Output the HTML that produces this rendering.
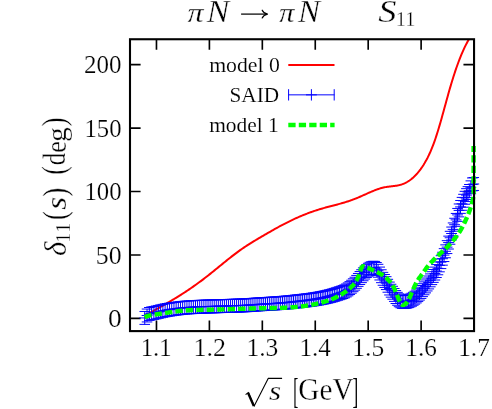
<!DOCTYPE html>
<html><head><meta charset="utf-8"><title>S11</title>
<style>html,body{margin:0;padding:0;background:#fff;overflow:hidden}svg{display:block;font-family:"Liberation Serif",serif}</style></head>
<body><svg width="492" height="409" viewBox="0 0 492 409">
<defs><clipPath id="clip"><rect x="130.0" y="39.25" width="344.05" height="291.85"/></clipPath></defs>
<rect width="492" height="409" fill="#fff"/>
<g style="opacity:0.999">
<path d="M156.47 331.10V320.50M156.47 39.25V49.85M209.40 331.10V320.50M209.40 39.25V49.85M262.33 331.10V320.50M262.33 39.25V49.85M315.26 331.10V320.50M315.26 39.25V49.85M368.19 331.10V320.50M368.19 39.25V49.85M421.12 331.10V320.50M421.12 39.25V49.85M130.00 318.41H140.60M474.05 318.41H463.45M130.00 254.97H140.60M474.05 254.97H463.45M130.00 191.52H140.60M474.05 191.52H463.45M130.00 128.07H140.60M474.05 128.07H463.45M130.00 64.63H140.60M474.05 64.63H463.45" stroke="#000" stroke-width="1.65" fill="none"/>
<g clip-path="url(#clip)">
<path d="M144.50 315.69 L145.50 315.16 L146.50 314.62 L147.50 314.09 L148.50 313.55 L149.50 313.01 L150.50 312.47 L151.50 311.93 L152.50 311.38 L153.50 310.84 L154.50 310.29 L155.50 309.74 L156.50 309.19 L157.50 308.63 L158.50 308.08 L159.50 307.52 L160.50 306.96 L161.50 306.39 L162.50 305.83 L163.50 305.26 L164.50 304.68 L165.50 304.11 L166.50 303.53 L167.50 302.94 L168.50 302.36 L169.50 301.77 L170.50 301.18 L171.50 300.58 L172.50 299.98 L173.50 299.38 L174.50 298.77 L175.50 298.16 L176.50 297.55 L177.50 296.93 L178.50 296.30 L179.50 295.67 L180.50 295.04 L181.50 294.41 L182.50 293.76 L183.50 293.12 L184.50 292.47 L185.50 291.81 L186.50 291.15 L187.50 290.49 L188.50 289.82 L189.50 289.14 L190.50 288.46 L191.50 287.77 L192.50 287.08 L193.50 286.38 L194.50 285.68 L195.50 284.97 L196.50 284.25 L197.50 283.53 L198.50 282.81 L199.50 282.07 L200.50 281.33 L201.50 280.59 L202.50 279.84 L203.50 279.08 L204.50 278.31 L205.50 277.54 L206.50 276.76 L207.50 275.98 L208.50 275.19 L209.50 274.40 L210.50 273.60 L211.50 272.80 L212.50 271.99 L213.50 271.18 L214.50 270.37 L215.50 269.56 L216.50 268.74 L217.50 267.93 L218.50 267.11 L219.50 266.30 L220.50 265.48 L221.50 264.66 L222.50 263.85 L223.50 263.04 L224.50 262.23 L225.50 261.42 L226.50 260.61 L227.50 259.81 L228.50 259.02 L229.50 258.22 L230.50 257.44 L231.50 256.65 L232.50 255.88 L233.50 255.11 L234.50 254.34 L235.50 253.59 L236.50 252.84 L237.50 252.10 L238.50 251.36 L239.50 250.64 L240.50 249.93 L241.50 249.22 L242.50 248.53 L243.50 247.84 L244.50 247.17 L245.50 246.50 L246.50 245.85 L247.50 245.20 L248.50 244.55 L249.50 243.92 L250.50 243.29 L251.50 242.67 L252.50 242.05 L253.50 241.44 L254.50 240.84 L255.50 240.24 L256.50 239.64 L257.50 239.05 L258.50 238.46 L259.50 237.87 L260.50 237.29 L261.50 236.70 L262.50 236.12 L263.50 235.54 L264.50 234.97 L265.50 234.39 L266.50 233.81 L267.50 233.23 L268.50 232.66 L269.50 232.08 L270.50 231.51 L271.50 230.93 L272.50 230.36 L273.50 229.80 L274.50 229.23 L275.50 228.67 L276.50 228.11 L277.50 227.56 L278.50 227.00 L279.50 226.46 L280.50 225.92 L281.50 225.38 L282.50 224.85 L283.50 224.33 L284.50 223.81 L285.50 223.29 L286.50 222.79 L287.50 222.28 L288.50 221.78 L289.50 221.29 L290.50 220.81 L291.50 220.32 L292.50 219.85 L293.50 219.38 L294.50 218.92 L295.50 218.46 L296.50 218.01 L297.50 217.56 L298.50 217.12 L299.50 216.68 L300.50 216.26 L301.50 215.83 L302.50 215.42 L303.50 215.01 L304.50 214.60 L305.50 214.20 L306.50 213.81 L307.50 213.43 L308.50 213.05 L309.50 212.68 L310.50 212.31 L311.50 211.95 L312.50 211.60 L313.50 211.25 L314.50 210.91 L315.50 210.58 L316.50 210.25 L317.50 209.93 L318.50 209.62 L319.50 209.31 L320.50 209.01 L321.50 208.72 L322.50 208.43 L323.50 208.14 L324.50 207.86 L325.50 207.59 L326.50 207.32 L327.50 207.05 L328.50 206.78 L329.50 206.52 L330.50 206.26 L331.50 205.99 L332.50 205.73 L333.50 205.47 L334.50 205.21 L335.50 204.94 L336.50 204.68 L337.50 204.41 L338.50 204.14 L339.50 203.87 L340.50 203.59 L341.50 203.31 L342.50 203.03 L343.50 202.74 L344.50 202.44 L345.50 202.14 L346.50 201.83 L347.50 201.51 L348.50 201.19 L349.50 200.86 L350.50 200.51 L351.50 200.16 L352.50 199.80 L353.50 199.43 L354.50 199.05 L355.50 198.66 L356.50 198.26 L357.50 197.84 L358.50 197.42 L359.50 196.98 L360.50 196.54 L361.50 196.10 L362.50 195.65 L363.50 195.20 L364.50 194.75 L365.50 194.29 L366.50 193.84 L367.50 193.39 L368.50 192.94 L369.50 192.50 L370.50 192.06 L371.50 191.64 L372.50 191.22 L373.50 190.81 L374.50 190.41 L375.50 190.02 L376.50 189.65 L377.50 189.29 L378.50 188.95 L379.50 188.63 L380.50 188.33 L381.50 188.04 L382.50 187.78 L383.50 187.54 L384.50 187.33 L385.50 187.14 L386.50 186.97 L387.50 186.82 L388.50 186.68 L389.50 186.56 L390.50 186.44 L391.50 186.32 L392.50 186.20 L393.50 186.08 L394.50 185.95 L395.50 185.81 L396.50 185.65 L397.50 185.47 L398.50 185.27 L399.50 185.04 L400.50 184.78 L401.50 184.48 L402.50 184.14 L403.50 183.75 L404.50 183.32 L405.50 182.85 L406.50 182.32 L407.50 181.75 L408.50 181.13 L409.50 180.46 L410.50 179.74 L411.50 178.96 L412.50 178.13 L413.50 177.24 L414.50 176.29 L415.50 175.29 L416.50 174.22 L417.50 173.09 L418.50 171.90 L419.50 170.65 L420.50 169.33 L421.50 167.94 L422.50 166.48 L423.50 164.94 L424.50 163.32 L425.50 161.61 L426.50 159.81 L427.50 157.91 L428.50 155.90 L429.50 153.78 L430.50 151.55 L431.50 149.19 L432.50 146.71 L433.50 144.10 L434.50 141.35 L435.50 138.46 L436.50 135.43 L437.50 132.28 L438.50 129.02 L439.50 125.66 L440.50 122.21 L441.50 118.69 L442.50 115.10 L443.50 111.48 L444.50 107.82 L445.50 104.16 L446.50 100.52 L447.50 96.90 L448.50 93.32 L449.50 89.81 L450.50 86.36 L451.50 83.00 L452.50 79.72 L453.50 76.53 L454.50 73.44 L455.50 70.44 L456.50 67.53 L457.50 64.72 L458.50 62.01 L459.50 59.38 L460.50 56.86 L461.50 54.42 L462.50 52.08 L463.50 49.84 L464.50 47.68 L465.50 45.63 L466.50 43.66 L467.50 41.80 L468.50 40.02 L469.50 38.34 L470.50 36.75" fill="none" stroke="#ff0000" stroke-width="2" stroke-linejoin="round"/>
</g>
<path d="M144.74 311.48V324.38M139.44 311.48H150.04M139.44 324.38H150.04M139.34 317.93H150.14M147.04 309.04V321.94M141.74 309.04H152.34M141.74 321.94H152.34M141.64 315.49H152.44M149.33 307.50V320.40M144.03 307.50H154.63M144.03 320.40H154.63M143.93 313.95H154.73M151.61 306.90V319.80M146.31 306.90H156.91M146.31 319.80H156.91M146.21 313.35H157.01M153.88 306.48V319.38M148.58 306.48H159.18M148.58 319.38H159.18M148.48 312.93H159.28M156.14 305.99V318.89M150.84 305.99H161.44M150.84 318.89H161.44M150.74 312.44H161.54M158.40 305.44V318.34M153.10 305.44H163.70M153.10 318.34H163.70M153.00 311.89H163.80M160.64 304.89V317.79M155.34 304.89H165.94M155.34 317.79H165.94M155.24 311.34H166.04M162.88 304.38V317.28M157.58 304.38H168.18M157.58 317.28H168.18M157.48 310.83H168.28M165.11 303.92V316.82M159.81 303.92H170.41M159.81 316.82H170.41M159.71 310.37H170.51M167.33 303.52V316.42M162.03 303.52H172.63M162.03 316.42H172.63M161.93 309.97H172.73M169.54 303.15V316.05M164.24 303.15H174.84M164.24 316.05H174.84M164.14 309.60H174.94M171.74 302.81V315.71M166.44 302.81H177.04M166.44 315.71H177.04M166.34 309.26H177.14M173.94 302.50V315.40M168.64 302.50H179.24M168.64 315.40H179.24M168.54 308.95H179.34M176.13 302.20V315.10M170.83 302.20H181.43M170.83 315.10H181.43M170.73 308.65H181.53M178.31 301.93V314.83M173.01 301.93H183.61M173.01 314.83H183.61M172.91 308.38H183.71M180.48 301.66V314.56M175.18 301.66H185.78M175.18 314.56H185.78M175.08 308.11H185.88M182.64 301.42V314.32M177.34 301.42H187.94M177.34 314.32H187.94M177.24 307.87H188.04M184.80 301.22V314.12M179.50 301.22H190.10M179.50 314.12H190.10M179.40 307.67H190.20M186.95 301.05V313.95M181.65 301.05H192.25M181.65 313.95H192.25M181.55 307.50H192.35M189.09 300.90V313.80M183.79 300.90H194.39M183.79 313.80H194.39M183.69 307.35H194.49M191.22 300.77V313.67M185.92 300.77H196.52M185.92 313.67H196.52M185.82 307.22H196.62M193.35 300.65V313.55M188.05 300.65H198.65M188.05 313.55H198.65M187.95 307.10H198.75M195.47 300.55V313.45M190.17 300.55H200.77M190.17 313.45H200.77M190.07 307.00H200.87M197.58 300.45V313.35M192.28 300.45H202.88M192.28 313.35H202.88M192.18 306.90H202.98M199.69 300.35V313.25M194.39 300.35H204.99M194.39 313.25H204.99M194.29 306.80H205.09M201.78 300.27V313.17M196.48 300.27H207.08M196.48 313.17H207.08M196.38 306.72H207.18M203.87 300.19V313.09M198.57 300.19H209.17M198.57 313.09H209.17M198.47 306.64H209.27M205.96 300.12V313.02M200.66 300.12H211.26M200.66 313.02H211.26M200.56 306.57H211.36M208.04 300.05V312.95M202.74 300.05H213.34M202.74 312.95H213.34M202.64 306.50H213.44M210.11 299.98V312.88M204.81 299.98H215.41M204.81 312.88H215.41M204.71 306.43H215.51M212.17 299.92V312.82M206.87 299.92H217.47M206.87 312.82H217.47M206.77 306.37H217.57M214.23 299.86V312.76M208.93 299.86H219.53M208.93 312.76H219.53M208.83 306.31H219.63M216.28 299.81V312.71M210.98 299.81H221.58M210.98 312.71H221.58M210.88 306.26H221.68M218.32 299.75V312.65M213.02 299.75H223.62M213.02 312.65H223.62M212.92 306.20H223.72M220.36 299.69V312.59M215.06 299.69H225.66M215.06 312.59H225.66M214.96 306.14H225.76M222.39 299.63V312.53M217.09 299.63H227.69M217.09 312.53H227.69M216.99 306.08H227.79M224.41 299.57V312.47M219.11 299.57H229.71M219.11 312.47H229.71M219.01 306.02H229.81M226.43 299.50V312.40M221.13 299.50H231.73M221.13 312.40H231.73M221.03 305.95H231.83M228.44 299.44V312.34M223.14 299.44H233.74M223.14 312.34H233.74M223.04 305.89H233.84M230.45 299.38V312.28M225.15 299.38H235.75M225.15 312.28H235.75M225.05 305.83H235.85M232.45 299.32V312.22M227.15 299.32H237.75M227.15 312.22H237.75M227.05 305.77H237.85M234.44 299.25V312.15M229.14 299.25H239.74M229.14 312.15H239.74M229.04 305.70H239.84M236.43 299.19V312.09M231.13 299.19H241.73M231.13 312.09H241.73M231.03 305.64H241.83M238.41 299.12V312.02M233.11 299.12H243.71M233.11 312.02H243.71M233.01 305.57H243.81M240.39 299.05V311.95M235.09 299.05H245.69M235.09 311.95H245.69M234.99 305.50H245.79M242.36 298.97V311.87M237.06 298.97H247.66M237.06 311.87H247.66M236.96 305.42H247.76M244.32 298.88V311.78M239.02 298.88H249.62M239.02 311.78H249.62M238.92 305.33H249.72M246.28 298.79V311.69M240.98 298.79H251.58M240.98 311.69H251.58M240.88 305.24H251.68M248.24 298.67V311.57M242.94 298.67H253.54M242.94 311.57H253.54M242.84 305.12H253.64M250.18 298.54V311.44M244.88 298.54H255.48M244.88 311.44H255.48M244.78 304.99H255.58M252.12 298.41V311.31M246.82 298.41H257.42M246.82 311.31H257.42M246.72 304.86H257.52M254.06 298.26V311.16M248.76 298.26H259.36M248.76 311.16H259.36M248.66 304.71H259.46M255.99 298.12V311.02M250.69 298.12H261.29M250.69 311.02H261.29M250.59 304.57H261.39M257.92 297.99V310.89M252.62 297.99H263.22M252.62 310.89H263.22M252.52 304.44H263.32M259.84 297.86V310.76M254.54 297.86H265.14M254.54 310.76H265.14M254.44 304.31H265.24M261.75 297.74V310.64M256.45 297.74H267.05M256.45 310.64H267.05M256.35 304.19H267.15M263.66 297.64V310.54M258.36 297.64H268.96M258.36 310.54H268.96M258.26 304.09H269.06M265.56 297.53V310.43M260.26 297.53H270.86M260.26 310.43H270.86M260.16 303.98H270.96M267.46 297.42V310.32M262.16 297.42H272.76M262.16 310.32H272.76M262.06 303.87H272.86M269.36 297.31V310.21M264.06 297.31H274.66M264.06 310.21H274.66M263.96 303.76H274.76M271.24 297.20V310.10M265.94 297.20H276.54M265.94 310.10H276.54M265.84 303.65H276.64M273.13 297.08V309.98M267.83 297.08H278.43M267.83 309.98H278.43M267.73 303.53H278.53M275.00 296.95V309.85M269.70 296.95H280.30M269.70 309.85H280.30M269.60 303.40H280.40M276.88 296.82V309.72M271.58 296.82H282.18M271.58 309.72H282.18M271.48 303.27H282.28M278.75 296.68V309.58M273.45 296.68H284.05M273.45 309.58H284.05M273.35 303.13H284.15M280.61 296.54V309.44M275.31 296.54H285.91M275.31 309.44H285.91M275.21 302.99H286.01M282.47 296.40V309.30M277.17 296.40H287.77M277.17 309.30H287.77M277.07 302.85H287.87M284.32 296.24V309.14M279.02 296.24H289.62M279.02 309.14H289.62M278.92 302.69H289.72M286.17 296.08V308.98M280.87 296.08H291.47M280.87 308.98H291.47M280.77 302.53H291.57M288.01 295.91V308.81M282.71 295.91H293.31M282.71 308.81H293.31M282.61 302.36H293.41M289.85 295.73V308.63M284.55 295.73H295.15M284.55 308.63H295.15M284.45 302.18H295.25M291.69 295.54V308.44M286.39 295.54H296.99M286.39 308.44H296.99M286.29 301.99H297.09M293.52 295.34V308.24M288.22 295.34H298.82M288.22 308.24H298.82M288.12 301.79H298.92M295.34 295.14V308.04M290.04 295.14H300.64M290.04 308.04H300.64M289.94 301.59H300.74M297.16 294.94V307.84M291.86 294.94H302.46M291.86 307.84H302.46M291.76 301.39H302.56M298.98 294.74V307.64M293.68 294.74H304.28M293.68 307.64H304.28M293.58 301.19H304.38M300.79 294.55V307.45M295.49 294.55H306.09M295.49 307.45H306.09M295.39 301.00H306.19M302.60 294.35V307.25M297.30 294.35H307.90M297.30 307.25H307.90M297.20 300.80H308.00M304.40 294.14V307.04M299.10 294.14H309.70M299.10 307.04H309.70M299.00 300.59H309.80M306.20 293.93V306.83M300.90 293.93H311.50M300.90 306.83H311.50M300.80 300.38H311.60M307.99 293.71V306.61M302.69 293.71H313.29M302.69 306.61H313.29M302.59 300.16H313.39M309.78 293.48V306.38M304.48 293.48H315.08M304.48 306.38H315.08M304.38 299.93H315.18M311.56 293.23V306.13M306.26 293.23H316.86M306.26 306.13H316.86M306.16 299.68H316.96M313.34 292.97V305.87M308.04 292.97H318.64M308.04 305.87H318.64M307.94 299.42H318.74M315.12 292.69V305.59M309.82 292.69H320.42M309.82 305.59H320.42M309.72 299.14H320.52M316.89 292.40V305.30M311.59 292.40H322.19M311.59 305.30H322.19M311.49 298.85H322.29M318.66 292.09V304.99M313.36 292.09H323.96M313.36 304.99H323.96M313.26 298.54H324.06M320.42 291.77V304.67M315.12 291.77H325.72M315.12 304.67H325.72M315.02 298.22H325.82M322.18 291.43V304.33M316.88 291.43H327.48M316.88 304.33H327.48M316.78 297.88H327.58M323.94 291.07V303.97M318.64 291.07H329.24M318.64 303.97H329.24M318.54 297.52H329.34M325.69 290.68V303.58M320.39 290.68H330.99M320.39 303.58H330.99M320.29 297.13H331.09M327.44 290.28V303.18M322.14 290.28H332.74M322.14 303.18H332.74M322.04 296.73H332.84M329.18 289.86V302.76M323.88 289.86H334.48M323.88 302.76H334.48M323.78 296.31H334.58M330.92 289.41V302.31M325.62 289.41H336.22M325.62 302.31H336.22M325.52 295.86H336.32M332.65 288.92V301.82M327.35 288.92H337.95M327.35 301.82H337.95M327.25 295.37H338.05M334.38 288.40V301.30M329.08 288.40H339.68M329.08 301.30H339.68M328.98 294.85H339.78M336.11 287.86V300.76M330.81 287.86H341.41M330.81 300.76H341.41M330.71 294.31H341.51M337.83 287.30V300.20M332.53 287.30H343.13M332.53 300.20H343.13M332.43 293.75H343.23M339.55 286.76V299.66M334.25 286.76H344.85M334.25 299.66H344.85M334.15 293.21H344.95M341.27 286.21V299.11M335.97 286.21H346.57M335.97 299.11H346.57M335.87 292.66H346.67M342.98 285.61V298.51M337.68 285.61H348.28M337.68 298.51H348.28M337.58 292.06H348.38M344.69 284.90V297.80M339.39 284.90H349.99M339.39 297.80H349.99M339.29 291.35H350.09M346.39 284.01V296.91M341.09 284.01H351.69M341.09 296.91H351.69M340.99 290.46H351.79M348.09 282.91V295.81M342.79 282.91H353.39M342.79 295.81H353.39M342.69 289.36H353.49M349.79 281.65V294.55M344.49 281.65H355.09M344.49 294.55H355.09M344.39 288.10H355.19M351.48 280.26V293.16M346.18 280.26H356.78M346.18 293.16H356.78M346.08 286.71H356.88M353.17 278.79V291.69M347.87 278.79H358.47M347.87 291.69H358.47M347.77 285.24H358.57M354.86 277.23V290.13M349.56 277.23H360.16M349.56 290.13H360.16M349.46 283.68H360.26M356.54 275.41V288.31M351.24 275.41H361.84M351.24 288.31H361.84M351.14 281.86H361.94M358.22 273.46V286.36M352.92 273.46H363.52M352.92 286.36H363.52M352.82 279.91H363.62M359.89 271.57V284.47M354.59 271.57H365.19M354.59 284.47H365.19M354.49 278.02H365.29M361.56 269.73V282.63M356.26 269.73H366.86M356.26 282.63H366.86M356.16 276.18H366.96M363.23 267.87V280.77M357.93 267.87H368.53M357.93 280.77H368.53M357.83 274.32H368.63M364.89 266.13V279.03M359.59 266.13H370.19M359.59 279.03H370.19M359.49 272.58H370.29M366.55 264.64V277.54M361.25 264.64H371.85M361.25 277.54H371.85M361.15 271.09H371.95M368.21 263.29V276.19M362.91 263.29H373.51M362.91 276.19H373.51M362.81 269.74H373.61M369.87 262.30V275.20M364.57 262.30H375.17M364.57 275.20H375.17M364.47 268.75H375.27M371.52 261.71V274.61M366.22 261.71H376.82M366.22 274.61H376.82M366.12 268.16H376.92M373.16 261.31V274.21M367.86 261.31H378.46M367.86 274.21H378.46M367.76 267.76H378.56M374.81 261.42V274.32M369.51 261.42H380.11M369.51 274.32H380.11M369.41 267.87H380.21M376.45 262.52V275.42M371.15 262.52H381.75M371.15 275.42H381.75M371.05 268.97H381.85M378.08 264.30V277.20M372.78 264.30H383.38M372.78 277.20H383.38M372.68 270.75H383.48M379.72 267.08V279.98M374.42 267.08H385.02M374.42 279.98H385.02M374.32 273.53H385.12M381.35 269.78V282.68M376.05 269.78H386.65M376.05 282.68H386.65M375.95 276.23H386.75M382.97 272.35V285.25M377.67 272.35H388.27M377.67 285.25H388.27M377.57 278.80H388.37M384.60 274.53V287.43M379.30 274.53H389.90M379.30 287.43H389.90M379.20 280.98H390.00M386.22 276.69V289.59M380.92 276.69H391.52M380.92 289.59H391.52M380.82 283.14H391.62M387.83 279.31V292.21M382.53 279.31H393.13M382.53 292.21H393.13M382.43 285.76H393.23M389.45 282.07V294.97M384.15 282.07H394.75M384.15 294.97H394.75M384.05 288.52H394.85M391.06 284.27V297.17M385.76 284.27H396.36M385.76 297.17H396.36M385.66 290.72H396.46M392.67 286.31V299.21M387.37 286.31H397.97M387.37 299.21H397.97M387.27 292.76H398.07M394.27 288.48V301.38M388.97 288.48H399.57M388.97 301.38H399.57M388.87 294.93H399.67M395.87 290.60V303.50M390.57 290.60H401.17M390.57 303.50H401.17M390.47 297.05H401.27M397.47 292.35V305.25M392.17 292.35H402.77M392.17 305.25H402.77M392.07 298.80H402.87M399.06 293.84V306.74M393.76 293.84H404.36M393.76 306.74H404.36M393.66 300.29H404.46M400.66 294.86V307.76M395.36 294.86H405.96M395.36 307.76H405.96M395.26 301.31H406.06M402.25 295.45V308.35M396.95 295.45H407.55M396.95 308.35H407.55M396.85 301.90H407.65M403.83 295.64V308.54M398.53 295.64H409.13M398.53 308.54H409.13M398.43 302.09H409.23M405.41 295.47V308.37M400.11 295.47H410.71M400.11 308.37H410.71M400.01 301.92H410.81M406.99 295.17V308.07M401.69 295.17H412.29M401.69 308.07H412.29M401.59 301.62H412.39M408.57 294.72V307.62M403.27 294.72H413.87M403.27 307.62H413.87M403.17 301.17H413.97M410.14 294.05V306.95M404.84 294.05H415.44M404.84 306.95H415.44M404.74 300.50H415.54M411.72 293.27V306.17M406.42 293.27H417.02M406.42 306.17H417.02M406.32 299.72H417.12M413.28 292.33V305.23M407.98 292.33H418.58M407.98 305.23H418.58M407.88 298.78H418.68M414.85 291.24V304.14M409.55 291.24H420.15M409.55 304.14H420.15M409.45 297.69H420.25M416.41 290.01V302.91M411.11 290.01H421.71M411.11 302.91H421.71M411.01 296.46H421.81M417.97 288.69V301.59M412.67 288.69H423.27M412.67 301.59H423.27M412.57 295.14H423.37M419.53 287.20V300.10M414.23 287.20H424.83M414.23 300.10H424.83M414.13 293.65H424.93M421.08 285.52V298.42M415.78 285.52H426.38M415.78 298.42H426.38M415.68 291.97H426.48M422.63 283.72V296.62M417.33 283.72H427.93M417.33 296.62H427.93M417.23 290.17H428.03M424.18 281.86V294.76M418.88 281.86H429.48M418.88 294.76H429.48M418.78 288.31H429.58M425.72 279.98V292.88M420.42 279.98H431.02M420.42 292.88H431.02M420.32 286.43H431.12M427.27 278.04V290.94M421.97 278.04H432.57M421.97 290.94H432.57M421.87 284.49H432.67M428.80 276.02V288.92M423.50 276.02H434.10M423.50 288.92H434.10M423.40 282.47H434.20M430.34 273.91V286.81M425.04 273.91H435.64M425.04 286.81H435.64M424.94 280.36H435.74M431.88 271.72V284.62M426.58 271.72H437.18M426.58 284.62H437.18M426.48 278.17H437.28M433.41 269.46V282.36M428.11 269.46H438.71M428.11 282.36H438.71M428.01 275.91H438.81M434.93 267.10V280.00M429.63 267.10H440.23M429.63 280.00H440.23M429.53 273.55H440.33M436.46 264.59V277.49M431.16 264.59H441.76M431.16 277.49H441.76M431.06 271.04H441.86M437.98 261.88V274.78M432.68 261.88H443.28M432.68 274.78H443.28M432.58 268.33H443.38M439.50 258.92V271.82M434.20 258.92H444.80M434.20 271.82H444.80M434.10 265.37H444.90M441.02 255.70V268.60M435.72 255.70H446.32M435.72 268.60H446.32M435.62 262.15H446.42M442.54 252.27V265.17M437.24 252.27H447.84M437.24 265.17H447.84M437.14 258.72H447.94M444.05 248.65V261.55M438.75 248.65H449.35M438.75 261.55H449.35M438.65 255.10H449.45M445.56 244.86V257.76M440.26 244.86H450.86M440.26 257.76H450.86M440.16 251.31H450.96M447.07 240.67V253.57M441.77 240.67H452.37M441.77 253.57H452.37M441.67 247.12H452.47M448.57 236.13V249.03M443.27 236.13H453.87M443.27 249.03H453.87M443.17 242.58H453.97M450.07 231.32V244.22M444.77 231.32H455.37M444.77 244.22H455.37M444.67 237.77H455.47M451.57 227.05V239.95M446.27 227.05H456.87M446.27 239.95H456.87M446.17 233.50H456.97M453.07 222.94V235.84M447.77 222.94H458.37M447.77 235.84H458.37M447.67 229.39H458.47M454.56 218.28V231.18M449.26 218.28H459.86M449.26 231.18H459.86M449.16 224.73H459.96M456.05 213.44V226.34M450.75 213.44H461.35M450.75 226.34H461.35M450.65 219.89H461.45M457.54 208.45V221.35M452.24 208.45H462.84M452.24 221.35H462.84M452.14 214.90H462.94M459.03 203.97V216.87M453.73 203.97H464.33M453.73 216.87H464.33M453.63 210.42H464.43M460.51 200.47V213.37M455.21 200.47H465.81M455.21 213.37H465.81M455.11 206.92H465.91M462.00 197.38V210.28M456.70 197.38H467.30M456.70 210.28H467.30M456.60 203.83H467.40M463.48 194.31V207.21M458.18 194.31H468.78M458.18 207.21H468.78M458.08 200.76H468.88M464.95 191.33V204.23M459.65 191.33H470.25M459.65 204.23H470.25M459.55 197.78H470.35M466.43 188.67V201.57M461.13 188.67H471.73M461.13 201.57H471.73M461.03 195.12H471.83M467.90 186.65V199.55M462.60 186.65H473.20M462.60 199.55H473.20M462.50 193.10H473.30M469.37 184.51V197.41M464.07 184.51H474.67M464.07 197.41H474.67M463.97 190.96H474.77M470.84 180.86V193.76M465.54 180.86H476.14M465.54 193.76H476.14M465.44 187.31H476.24M472.30 177.95V190.85M467.00 177.95H477.60M467.00 190.85H477.60M466.90 184.40H477.70M473.76 177.55V190.45M468.46 177.55H479.06M468.46 190.45H479.06M468.36 184.00H479.16" fill="none" stroke="#0000ff" stroke-width="1"/>
<path d="M144.60 317.20 L145.10 316.98 L145.60 316.77 L146.10 316.57 L146.60 316.37 L147.10 316.18 L147.60 316.00 L148.10 315.83 L148.60 315.67 L149.10 315.52 L149.60 315.39 L150.10 315.28 L150.60 315.17 L151.10 315.08 L151.60 314.99 L152.10 314.90 L152.60 314.82 L153.10 314.75 L153.60 314.68 L154.10 314.61 L154.60 314.54 L155.10 314.47 L155.60 314.40 L156.10 314.33 L156.60 314.26 L157.10 314.18 L157.60 314.11 L158.10 314.03 L158.60 313.96 L159.10 313.88 L159.60 313.81 L160.10 313.73 L160.60 313.66 L161.10 313.58 L161.60 313.51 L162.10 313.43 L162.60 313.36 L163.10 313.28 L163.60 313.21 L164.10 313.14 L164.60 313.06 L165.10 312.99 L165.60 312.92 L166.10 312.85 L166.60 312.77 L167.10 312.70 L167.60 312.63 L168.10 312.56 L168.60 312.48 L169.10 312.41 L169.60 312.33 L170.10 312.26 L170.60 312.18 L171.10 312.11 L171.60 312.03 L172.10 311.96 L172.60 311.88 L173.10 311.81 L173.60 311.74 L174.10 311.66 L174.60 311.59 L175.10 311.52 L175.60 311.46 L176.10 311.39 L176.60 311.32 L177.10 311.26 L177.60 311.20 L178.10 311.14 L178.60 311.09 L179.10 311.03 L179.60 310.98 L180.10 310.93 L180.60 310.87 L181.10 310.82 L181.60 310.77 L182.10 310.71 L182.60 310.66 L183.10 310.61 L183.60 310.57 L184.10 310.52 L184.60 310.48 L185.10 310.43 L185.60 310.39 L186.10 310.35 L186.60 310.32 L187.10 310.28 L187.60 310.25 L188.10 310.22 L188.60 310.20 L189.10 310.18 L189.60 310.16 L190.10 310.13 L190.60 310.11 L191.10 310.10 L191.60 310.08 L192.10 310.06 L192.60 310.04 L193.10 310.03 L193.60 310.01 L194.10 310.00 L194.60 309.99 L195.10 309.97 L195.60 309.96 L196.10 309.95 L196.60 309.93 L197.10 309.92 L197.60 309.91 L198.10 309.90 L198.60 309.89 L199.10 309.88 L199.60 309.86 L200.10 309.85 L200.60 309.84 L201.10 309.84 L201.60 309.83 L202.10 309.82 L202.60 309.81 L203.10 309.80 L203.60 309.79 L204.10 309.78 L204.60 309.78 L205.10 309.77 L205.60 309.76 L206.10 309.75 L206.60 309.75 L207.10 309.74 L207.60 309.73 L208.10 309.72 L208.60 309.72 L209.10 309.71 L209.60 309.70 L210.10 309.69 L210.60 309.68 L211.10 309.68 L211.60 309.67 L212.10 309.66 L212.60 309.65 L213.10 309.64 L213.60 309.63 L214.10 309.62 L214.60 309.61 L215.10 309.60 L215.60 309.59 L216.10 309.57 L216.60 309.56 L217.10 309.55 L217.60 309.54 L218.10 309.52 L218.60 309.51 L219.10 309.50 L219.60 309.48 L220.10 309.47 L220.60 309.45 L221.10 309.44 L221.60 309.42 L222.10 309.41 L222.60 309.39 L223.10 309.38 L223.60 309.36 L224.10 309.35 L224.60 309.33 L225.10 309.31 L225.60 309.30 L226.10 309.28 L226.60 309.27 L227.10 309.25 L227.60 309.23 L228.10 309.22 L228.60 309.20 L229.10 309.18 L229.60 309.17 L230.10 309.15 L230.60 309.14 L231.10 309.12 L231.60 309.10 L232.10 309.09 L232.60 309.07 L233.10 309.06 L233.60 309.04 L234.10 309.03 L234.60 309.01 L235.10 309.00 L235.60 308.98 L236.10 308.97 L236.60 308.95 L237.10 308.94 L237.60 308.92 L238.10 308.91 L238.60 308.90 L239.10 308.88 L239.60 308.87 L240.10 308.85 L240.60 308.84 L241.10 308.82 L241.60 308.81 L242.10 308.79 L242.60 308.78 L243.10 308.77 L243.60 308.75 L244.10 308.74 L244.60 308.72 L245.10 308.71 L245.60 308.69 L246.10 308.68 L246.60 308.67 L247.10 308.65 L247.60 308.64 L248.10 308.62 L248.60 308.61 L249.10 308.59 L249.60 308.58 L250.10 308.57 L250.60 308.55 L251.10 308.54 L251.60 308.52 L252.10 308.51 L252.60 308.50 L253.10 308.48 L253.60 308.47 L254.10 308.46 L254.60 308.44 L255.10 308.43 L255.60 308.42 L256.10 308.40 L256.60 308.39 L257.10 308.38 L257.60 308.36 L258.10 308.35 L258.60 308.34 L259.10 308.32 L259.60 308.31 L260.10 308.30 L260.60 308.28 L261.10 308.27 L261.60 308.26 L262.10 308.25 L262.60 308.24 L263.10 308.23 L263.60 308.22 L264.10 308.21 L264.60 308.19 L265.10 308.18 L265.60 308.17 L266.10 308.16 L266.60 308.15 L267.10 308.14 L267.60 308.14 L268.10 308.13 L268.60 308.12 L269.10 308.11 L269.60 308.10 L270.10 308.09 L270.60 308.08 L271.10 308.07 L271.60 308.06 L272.10 308.05 L272.60 308.04 L273.10 308.03 L273.60 308.02 L274.10 308.01 L274.60 308.00 L275.10 307.99 L275.60 307.98 L276.10 307.97 L276.60 307.96 L277.10 307.95 L277.60 307.93 L278.10 307.92 L278.60 307.91 L279.10 307.90 L279.60 307.88 L280.10 307.87 L280.60 307.86 L281.10 307.84 L281.60 307.83 L282.10 307.81 L282.60 307.80 L283.10 307.78 L283.60 307.76 L284.10 307.75 L284.60 307.73 L285.10 307.71 L285.60 307.69 L286.10 307.67 L286.60 307.65 L287.10 307.63 L287.60 307.60 L288.10 307.57 L288.60 307.55 L289.10 307.52 L289.60 307.48 L290.10 307.45 L290.60 307.42 L291.10 307.38 L291.60 307.35 L292.10 307.31 L292.60 307.27 L293.10 307.23 L293.60 307.19 L294.10 307.15 L294.60 307.11 L295.10 307.06 L295.60 307.02 L296.10 306.97 L296.60 306.93 L297.10 306.88 L297.60 306.84 L298.10 306.79 L298.60 306.74 L299.10 306.69 L299.60 306.64 L300.10 306.58 L300.60 306.53 L301.10 306.47 L301.60 306.40 L302.10 306.34 L302.60 306.28 L303.10 306.21 L303.60 306.14 L304.10 306.07 L304.60 306.00 L305.10 305.93 L305.60 305.85 L306.10 305.78 L306.60 305.70 L307.10 305.62 L307.60 305.54 L308.10 305.46 L308.60 305.38 L309.10 305.30 L309.60 305.22 L310.10 305.13 L310.60 305.04 L311.10 304.95 L311.60 304.86 L312.10 304.76 L312.60 304.66 L313.10 304.56 L313.60 304.46 L314.10 304.36 L314.60 304.25 L315.10 304.15 L315.60 304.04 L316.10 303.92 L316.60 303.81 L317.10 303.70 L317.60 303.58 L318.10 303.46 L318.60 303.34 L319.10 303.22 L319.60 303.10 L320.10 302.98 L320.60 302.85 L321.10 302.72 L321.60 302.59 L322.10 302.45 L322.60 302.31 L323.10 302.17 L323.60 302.03 L324.10 301.88 L324.60 301.74 L325.10 301.58 L325.60 301.43 L326.10 301.27 L326.60 301.11 L327.10 300.95 L327.60 300.78 L328.10 300.61 L328.60 300.44 L329.10 300.26 L329.60 300.08 L330.10 299.90 L330.60 299.71 L331.10 299.52 L331.60 299.32 L332.10 299.12 L332.60 298.91 L333.10 298.70 L333.60 298.49 L334.10 298.26 L334.60 298.04 L335.10 297.81 L335.60 297.57 L336.10 297.33 L336.60 297.08 L337.10 296.83 L337.60 296.58 L338.10 296.32 L338.60 296.05 L339.10 295.78 L339.60 295.51 L340.10 295.23 L340.60 294.95 L341.10 294.65 L341.60 294.35 L342.10 294.04 L342.60 293.72 L343.10 293.39 L343.60 293.05 L344.10 292.71 L344.60 292.36 L345.10 292.00 L345.60 291.63 L346.10 291.25 L346.60 290.87 L347.10 290.48 L347.60 290.08 L348.10 289.69 L348.60 289.29 L349.10 288.89 L349.60 288.48 L350.10 288.06 L350.60 287.63 L351.10 287.18 L351.60 286.72 L352.10 286.23 L352.60 285.72 L353.10 285.19 L353.60 284.62 L354.10 284.03 L354.60 283.40 L355.10 282.72 L355.60 281.96 L356.10 281.11 L356.60 280.18 L357.10 279.18 L357.60 278.12 L358.10 277.01 L358.60 275.86 L359.10 274.68 L359.60 273.39 L360.10 271.79 L360.60 270.11 L361.10 268.68 L361.60 267.76 L362.10 267.09 L362.60 266.57 L363.10 266.31 L363.60 266.33 L364.10 266.42 L364.60 266.58 L365.10 266.77 L365.60 266.99 L366.10 267.22 L366.60 267.44 L367.10 267.64 L367.60 267.83 L368.10 268.02 L368.60 268.22 L369.10 268.43 L369.60 268.63 L370.10 268.84 L370.60 269.05 L371.10 269.27 L371.60 269.49 L372.10 269.71 L372.60 269.93 L373.10 270.16 L373.60 270.39 L374.10 270.62 L374.60 270.85 L375.10 271.09 L375.60 271.33 L376.10 271.57 L376.60 271.81 L377.10 272.06 L377.60 272.31 L378.10 272.57 L378.60 272.83 L379.10 273.10 L379.60 273.37 L380.10 273.64 L380.60 273.92 L381.10 274.20 L381.60 274.48 L382.10 274.77 L382.60 275.07 L383.10 275.37 L383.60 275.70 L384.10 276.04 L384.60 276.40 L385.10 276.79 L385.60 277.22 L386.10 277.67 L386.60 278.14 L387.10 278.64 L387.60 279.14 L388.10 279.66 L388.60 280.18 L389.10 280.70 L389.60 281.21 L390.10 281.72 L390.60 282.25 L391.10 282.82 L391.60 283.44 L392.10 284.15 L392.60 284.99 L393.10 285.96 L393.60 287.02 L394.10 288.12 L394.60 289.22 L395.10 290.39 L395.60 291.62 L396.10 292.85 L396.60 294.03 L397.10 295.23 L397.60 296.46 L398.10 297.69 L398.60 298.89 L399.10 300.02 L399.60 301.05 L400.10 301.94 L400.60 302.69 L401.10 303.43 L401.60 304.12 L402.10 304.67 L402.60 304.97 L403.10 304.98 L403.60 304.85 L404.10 304.64 L404.60 304.36 L405.10 304.05 L405.60 303.72 L406.10 303.29 L406.60 302.75 L407.10 302.12 L407.60 301.43 L408.10 300.68 L408.60 299.81 L409.10 298.80 L409.60 297.69 L410.10 296.50 L410.60 295.29 L411.10 294.08 L411.60 292.90 L412.10 291.78 L412.60 290.68 L413.10 289.55 L413.60 288.42 L414.10 287.30 L414.60 286.19 L415.10 285.12 L415.60 284.10 L416.10 283.14 L416.60 282.25 L417.10 281.41 L417.60 280.60 L418.10 279.82 L418.60 279.06 L419.10 278.33 L419.60 277.62 L420.10 276.92 L420.60 276.24 L421.10 275.55 L421.60 274.87 L422.10 274.19 L422.60 273.50 L423.10 272.80 L423.60 272.09 L424.10 271.37 L424.60 270.66 L425.10 269.95 L425.60 269.24 L426.10 268.54 L426.60 267.86 L427.10 267.19 L427.60 266.54 L428.10 265.92 L428.60 265.32 L429.10 264.73 L429.60 264.16 L430.10 263.59 L430.60 263.04 L431.10 262.49 L431.60 261.96 L432.10 261.43 L432.60 260.91 L433.10 260.39 L433.60 259.88 L434.10 259.38 L434.60 258.88 L435.10 258.38 L435.60 257.89 L436.10 257.39 L436.60 256.90 L437.10 256.42 L437.60 255.94 L438.10 255.48 L438.60 255.02 L439.10 254.57 L439.60 254.13 L440.10 253.68 L440.60 253.24 L441.10 252.80 L441.60 252.36 L442.10 251.91 L442.60 251.46 L443.10 251.01 L443.60 250.54 L444.10 250.07 L444.60 249.59 L445.10 249.10 L445.60 248.61 L446.10 248.11 L446.60 247.61 L447.10 247.11 L447.60 246.60 L448.10 246.09 L448.60 245.57 L449.10 245.04 L449.60 244.51 L450.10 243.97 L450.60 243.42 L451.10 242.86 L451.60 242.29 L452.10 241.72 L452.60 241.13 L453.10 240.53 L453.60 239.93 L454.10 239.32 L454.60 238.70 L455.10 238.07 L455.60 237.44 L456.10 236.79 L456.60 236.13 L457.10 235.45 L457.60 234.76 L458.10 234.05 L458.60 233.33 L459.10 232.58 L459.60 231.81 L460.10 231.02 L460.60 230.20 L461.10 229.35 L461.60 228.47 L462.10 227.55 L462.60 226.61 L463.10 225.63 L463.60 224.62 L464.10 223.59 L464.60 222.54 L465.10 221.46 L465.60 220.35 L466.10 219.23 L466.60 218.09 L467.10 216.93 L467.60 215.76 L468.10 214.56 L468.60 213.34 L469.10 212.06 L469.60 210.74 L470.10 209.35 L470.60 207.88 L471.10 206.32 L471.60 204.63 L472.10 202.73 L472.60 200.69 L473.00 199.00 L473.60 193.00 L473.60 145.90" fill="none" stroke="#00ff00" stroke-width="4.4" stroke-dasharray="7.3 3.17" stroke-dashoffset="0" stroke-linejoin="round"/>
<path d="M288.3 64.9H334.5" stroke="#ff0000" stroke-width="2" fill="none"/>
<path d="M288.3 94.85H334.5M288.6 89.2V100.5M334.2 89.2V100.5M311.4 89.15V100.55M306 94.85H316.8" stroke="#0000ff" stroke-width="1" fill="none"/>
<path d="M288.3 125H334.6" stroke="#00ff00" stroke-width="4.4" stroke-dasharray="7.3 3.17" fill="none"/>
<text transform="matrix(0.2176 0 0 0.2056 209.165 71.889)" font-family="Liberation Serif" font-size="100" stroke="#fff" stroke-width="0.57" paint-order="fill stroke">model 0</text>
<text transform="matrix(0.2126 0 0 0.2191 229.512 101.862)" font-family="Liberation Serif" font-size="100" stroke="#fff" stroke-width="0.56" paint-order="fill stroke">SAID</text>
<text transform="matrix(0.2145 0 0 0.2086 209.171 132.091)" font-family="Liberation Serif" font-size="100" stroke="#fff" stroke-width="0.57" paint-order="fill stroke">model 1</text>
<rect x="130.0" y="39.25" width="344.05" height="291.85" fill="none" stroke="#000" stroke-width="2.1"/>
<text transform="matrix(0.2738 0 0 0.2554 108.005 327.111)" font-family="Liberation Serif" font-size="100" stroke="#fff" stroke-width="0.76" paint-order="fill stroke">0</text>
<text transform="matrix(0.2578 0 0 0.2554 95.853 263.665)" font-family="Liberation Serif" font-size="100" stroke="#fff" stroke-width="0.78" paint-order="fill stroke">50</text>
<text transform="matrix(0.2474 0 0 0.2515 84.473 200.220)" font-family="Liberation Serif" font-size="100" stroke="#fff" stroke-width="0.80" paint-order="fill stroke">100</text>
<text transform="matrix(0.2474 0 0 0.2515 84.473 136.774)" font-family="Liberation Serif" font-size="100" stroke="#fff" stroke-width="0.80" paint-order="fill stroke">150</text>
<text transform="matrix(0.2500 0 0 0.2554 84.100 73.328)" font-family="Liberation Serif" font-size="100" stroke="#fff" stroke-width="0.79" paint-order="fill stroke">200</text>
<text transform="matrix(0.2473 0 0 0.2470 140.640 356.400)" font-family="Liberation Serif" font-size="100" stroke="#fff" stroke-width="0.81" paint-order="fill stroke">1.1</text>
<text transform="matrix(0.2600 0 0 0.2470 193.456 356.400)" font-family="Liberation Serif" font-size="100" stroke="#fff" stroke-width="0.79" paint-order="fill stroke">1.2</text>
<text transform="matrix(0.2554 0 0 0.2470 246.429 356.400)" font-family="Liberation Serif" font-size="100" stroke="#fff" stroke-width="0.80" paint-order="fill stroke">1.3</text>
<text transform="matrix(0.2509 0 0 0.2470 299.400 356.400)" font-family="Liberation Serif" font-size="100" stroke="#fff" stroke-width="0.80" paint-order="fill stroke">1.4</text>
<text transform="matrix(0.2554 0 0 0.2470 352.290 356.400)" font-family="Liberation Serif" font-size="100" stroke="#fff" stroke-width="0.80" paint-order="fill stroke">1.5</text>
<text transform="matrix(0.2531 0 0 0.2470 405.241 356.400)" font-family="Liberation Serif" font-size="100" stroke="#fff" stroke-width="0.80" paint-order="fill stroke">1.6</text>
<text transform="matrix(0.2531 0 0 0.2470 458.172 356.400)" font-family="Liberation Serif" font-size="100" stroke="#fff" stroke-width="0.80" paint-order="fill stroke">1.7</text>
<text transform="matrix(0.3196 0 0 0.2830 187.580 21.517)" font-family="Liberation Serif" font-size="100" font-style="italic" stroke="#fff" stroke-width="1.00" paint-order="fill stroke">π</text>
<text transform="matrix(0.3389 0 0 0.3123 206.839 21.600)" font-family="Liberation Serif" font-size="100" font-style="italic" stroke="#fff" stroke-width="0.92" paint-order="fill stroke">N</text>
<text transform="matrix(0.3078 0 0 0.2830 278.992 21.517)" font-family="Liberation Serif" font-size="100" font-style="italic" stroke="#fff" stroke-width="1.02" paint-order="fill stroke">π</text>
<text transform="matrix(0.3306 0 0 0.3123 297.931 21.600)" font-family="Liberation Serif" font-size="100" font-style="italic" stroke="#fff" stroke-width="0.93" paint-order="fill stroke">N</text>
<text transform="matrix(0.3638 0 0 0.3209 378.136 21.558)" font-family="Liberation Serif" font-size="100" font-style="italic" stroke="#fff" stroke-width="0.88" paint-order="fill stroke">S</text>
<text transform="matrix(0.2037 0 0 0.2045 395.767 26.000)" font-family="Liberation Serif" font-size="100" stroke="#fff" stroke-width="1.47" paint-order="fill stroke">11</text>
<path d="M241.1 14.1H266.6" stroke="#000" stroke-width="1.25" fill="none"/>
<path d="M262.2 10.2C263.2 12.4 265.2 13.6 267.5 14.1C265.2 14.6 263.2 15.8 262.2 18.0" stroke="#000" stroke-width="1.2" fill="none" stroke-linecap="round" stroke-linejoin="round"/>
<path d="M245.6 394.6L248.3 392.6L254.2 406.0L268.3 378.3H282.1" stroke="#000" stroke-width="1.15" fill="none" stroke-linejoin="miter"/>
<path d="M248.0 392.8L253.8 406.0" stroke="#000" stroke-width="2.4" fill="none"/>
<text transform="matrix(0.3114 0 0 0.2833 268.989 400.317)" font-family="Liberation Serif" font-size="100" font-style="italic" stroke="#fff" stroke-width="1.01" paint-order="fill stroke">s</text>
<text transform="matrix(0.1522 0 0 0.3524 293.335 402.718)" font-family="Liberation Serif" font-size="100" stroke="#fff" stroke-width="0.00" paint-order="fill stroke">[</text>
<text transform="matrix(0.2924 0 0 0.3239 298.330 400.152)" font-family="Liberation Serif" font-size="100" stroke="#fff" stroke-width="0.97" paint-order="fill stroke">GeV</text>
<text transform="matrix(0.1727 0 0 0.3524 352.609 402.718)" font-family="Liberation Serif" font-size="100" stroke="#fff" stroke-width="0.00" paint-order="fill stroke">]</text>
<text transform="matrix(0 -0.3078 0.3169 0 65.883 255.973)" font-family="Liberation Serif" font-size="100" font-style="italic" stroke="#fff" stroke-width="0.96" paint-order="fill stroke">δ</text>
<text transform="matrix(0 -0.1971 0.2152 0 70.200 242.774)" font-family="Liberation Serif" font-size="100" stroke="#fff" stroke-width="1.46" paint-order="fill stroke">1</text>
<text transform="matrix(0 -0.2000 0.2152 0 70.200 232.800)" font-family="Liberation Serif" font-size="100" stroke="#fff" stroke-width="1.45" paint-order="fill stroke">1</text>
<text transform="matrix(0 -0.2654 0.3467 0 65.620 219.962)" font-family="Liberation Serif" font-size="100" stroke="#fff" stroke-width="0.98" paint-order="fill stroke">(</text>
<text transform="matrix(0 -0.3314 0.2979 0 65.502 209.631)" font-family="Liberation Serif" font-size="100" font-style="italic" stroke="#fff" stroke-width="0.95" paint-order="fill stroke">s</text>
<text transform="matrix(0 -0.2731 0.3467 0 65.620 196.719)" font-family="Liberation Serif" font-size="100" stroke="#fff" stroke-width="0.97" paint-order="fill stroke">)</text>
<text transform="matrix(0 -0.2615 0.3433 0 65.490 174.646)" font-family="Liberation Serif" font-size="100" stroke="#fff" stroke-width="0.99" paint-order="fill stroke">(</text>
<text transform="matrix(0 -0.2467 0.3129 0 65.487 165.187)" font-family="Liberation Serif" font-size="100" stroke="#fff" stroke-width="1.07" paint-order="fill stroke">d</text>
<text transform="matrix(0 -0.2622 0.2917 0 65.508 152.749)" font-family="Liberation Serif" font-size="100" stroke="#fff" stroke-width="1.08" paint-order="fill stroke">e</text>
<text transform="matrix(0 -0.2966 0.2808 0 66.403 141.986)" font-family="Liberation Serif" font-size="100" stroke="#fff" stroke-width="1.04" paint-order="fill stroke">g</text>
<text transform="matrix(0 -0.2769 0.3433 0 65.490 126.531)" font-family="Liberation Serif" font-size="100" stroke="#fff" stroke-width="0.97" paint-order="fill stroke">)</text>
</g>
</svg></body></html>
